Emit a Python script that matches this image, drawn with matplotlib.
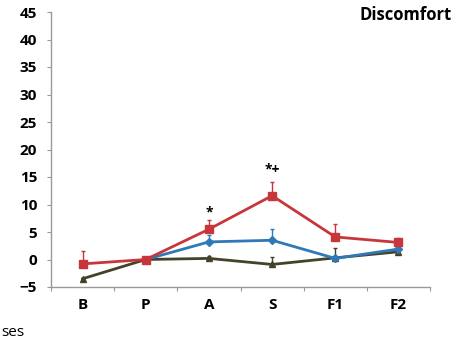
import numpy as np
import matplotlib.pyplot as plt

# phases and values
phases = ['B', 'P', 'A', 'S', 'F1', 'F2']

red_vals = [-0.8, 0.0, 5.5, 11.6, 4.1, 3.1]
red_err = [2.3, 0.0, 1.6, 2.5, 2.3, 0.9]

blue_vals = [np.nan, 0.0, 3.2, 3.5, 0.2, 1.9]
blue_err = [0.0, 0.0, 1.2, 2.0, 0.0, 0.3]

olive_vals = [-3.5, 0.0, 0.2, -0.9, 0.3, 1.4]
olive_err = [0.0, 0.0, 0.4, 1.4, 1.8, 0.3]

marks = [(2, 8.6, '*'), (3, 16.3, '*+')]

plt.rcParams['font.family'] = ['Open Sans', 'DejaVu Sans']

fig = plt.figure(figsize=(4.61, 3.46), dpi=100)
ax = fig.add_axes([51 / 461, 1 - 287 / 346, (430 - 51) / 461, (287 - 12) / 346])

x = np.arange(len(phases))

series = [
    (olive_vals, olive_err, '#44432a', '^', 5),
    (blue_vals, blue_err, '#2f79b9', 'D', 4),
    (red_vals, red_err, '#c8363b', 's', 6),
]
for vals, err, col, mk, ms in series:
    v = np.array(vals)
    e = np.array(err)
    ax.errorbar(x, v, yerr=[np.zeros_like(e), e], color=col, marker=mk,
                markersize=ms, linewidth=2, elinewidth=1, capsize=1.5,
                ecolor=col)

for xi, yi, s in marks:
    ax.text(xi, yi, s, ha='center', va='center', fontsize=10, fontweight='bold')

ax.set_xlim(-0.5, 5.5)
ax.set_ylim(-5, 45)
ax.set_yticks(range(-5, 50, 5))
ax.set_xticks(np.arange(-0.5, 6, 1))
ax.set_xticklabels([])
ax.set_xticks(x, minor=True)
ax.set_xticklabels(phases, minor=True)
ax.tick_params(axis='x', which='minor', length=0, pad=8)
ax.tick_params(axis='x', which='major', length=3, color='#999999')
ax.tick_params(axis='y', length=3, color='#999999', pad=7)
for lab in ax.get_xticklabels(minor=True) + ax.get_yticklabels():
    lab.set_fontweight('bold')
    lab.set_fontsize(11)

for sp in ['top', 'right']:
    ax.spines[sp].set_visible(False)
for sp in ['left', 'bottom']:
    ax.spines[sp].set_color('#999999')
    ax.spines[sp].set_linewidth(1)

fig.text(452 / 461, 1 - 15 / 346, 'Discomfort', ha='right', va='center',
         fontsize=12, fontweight='bold')
fig.text(0.002, 1 - 332 / 346, 'ses', ha='left', va='center', fontsize=11)

fig.savefig('out.png', dpi=100)
